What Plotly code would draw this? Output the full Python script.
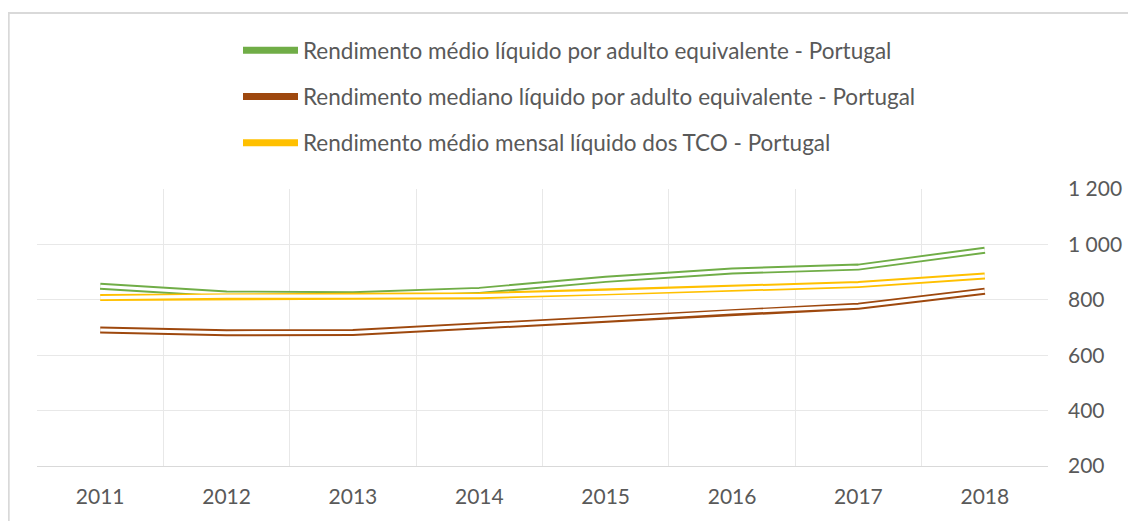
import plotly.graph_objects as go

years = ["2011", "2012", "2013", "2014", "2015", "2016", "2017", "2018"]
medio = [849, 821, 818, 834, 874, 904, 918, 979]
mediano = [691, 681, 682, 705, 730, 756, 777, 831]
tco = [808, 813, 813, 815, 827, 842, 855, 886]

names = [
    "Rendimento médio líquido por adulto equivalente - Portugal",
    "Rendimento mediano líquido por adulto equivalente - Portugal",
    "Rendimento médio mensal líquido dos TCO - Portugal",
]
colors = ["#70ad47", "#9e480e", "#ffc000"]
series = [medio, mediano, tco]

FONT = "Lato"
TXT = "#595959"

fig = go.Figure()
for i, (nm, col, vals) in enumerate(zip(names, colors, series)):
    fig.add_trace(go.Scatter(x=years, y=vals, mode="lines", name=nm,
                             line=dict(color=col, width=7), legendgroup=f"g{i}",
                             showlegend=True))
    fig.add_trace(go.Scatter(x=years, y=vals, mode="lines", name=nm,
                             line=dict(color="white", width=3.2), legendgroup=f"g{i}",
                             showlegend=False, hoverinfo="skip"))

# page has an 8px body margin; figure is sized/placed to compensate
OFF = 8
W, H = 1136 - OFF, 521 - OFF
L, T = 37 - OFF, 189 - OFF
pw, ph = 1011, 277
R, B = W - L - pw, H - T - ph

def px2paper_x(px):  # page pixel -> paper
    return (px - OFF - L) / pw

def px2paper_y(py):
    return (T + ph - (py - OFF)) / ph

fig.update_layout(
    width=W, height=H,
    margin=dict(l=L, r=R, t=T, b=B, pad=0),
    paper_bgcolor="white", plot_bgcolor="white",
    font=dict(family=FONT, color=TXT, size=21),
    separators=", ",
    legend=dict(
        x=px2paper_x(238), y=px2paper_y(29), xanchor="left", yanchor="top",
        orientation="v", traceorder="grouped", tracegroupgap=14,
        font=dict(family=FONT, color=TXT, size=22.5),
        itemwidth=55, bgcolor="rgba(0,0,0,0)",
    ),
    xaxis=dict(
        type="category", tickson="boundaries", showgrid=True,
        range=[-0.5, 7.5],
        gridcolor="#e8e8e8", gridwidth=1, showline=True, linecolor="#d9d9d9",
        linewidth=1, ticks="", ticklabelstandoff=12,
        tickfont=dict(family=FONT, color=TXT, size=21),
        zeroline=False, fixedrange=True,
    ),
    yaxis=dict(
        side="right", range=[200, 1200], dtick=200, tick0=200,
        tickformat=",d", showgrid=True, gridcolor="#e8e8e8", gridwidth=1,
        showline=False, ticks="", ticklabelstandoff=19, zeroline=False,
        tickfont=dict(family=FONT, color=TXT, size=21),
    ),
    showlegend=True,
    shapes=[dict(type="rect", xref="paper", yref="paper",
                 x0=px2paper_x(8.8), x1=px2paper_x(1160),
                 y0=px2paper_y(560), y1=px2paper_y(13),
                 line=dict(color="#d9d9d9", width=1.8), layer="below")],
)

fig.write_html("out.html")
